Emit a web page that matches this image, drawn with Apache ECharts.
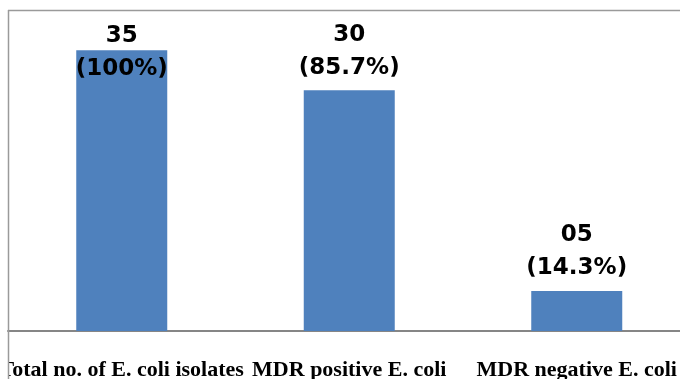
<!DOCTYPE html>
<html>
<head>
<meta charset="utf-8">
<script src="https://cdn.jsdelivr.net/npm/echarts@6/dist/echarts.min.js"></script>
<style>html,body{margin:0;padding:0;background:#fff}#c{width:680px;height:379px}</style>
</head>
<body>
<div id="c"></div>
<script>
var categories = ['Total no. of E. coli isolates', 'MDR positive E. coli', 'MDR negative E. coli'];
var counts = [35, 30, 5];
var countLabels = ['35', '30', '05'];
var percents = ['100%', '85.7%', '14.3%'];

var chart = echarts.init(document.getElementById('c'), null, {renderer: 'canvas'});
var data = counts.map(function (v, i) {
  var item = {value: v};
  if (i === 0) { item.label = {offset: [0, 41]}; }
  return item;
});
chart.setOption({
  animation: false,
  grid: {left: 8, top: 10, width: 682.5, height: 321, containLabel: false, outerBoundsMode: 'none', show: false},
  xAxis: {
    type: 'category',
    data: categories,
    axisLine: {show: true, lineStyle: {color: '#868686', width: 2}},
    axisTick: {show: false},
    axisLabel: {
      interval: 0, margin: 28, hideOverlap: false,
      fontFamily: 'Liberation Serif', fontWeight: 'bold', fontSize: 22, color: '#000'
    }
  },
  yAxis: {
    type: 'value', min: 0, max: 40, interval: 10,
    show: false, splitLine: {show: false}
  },
  series: [{
    type: 'bar',
    data: data,
    barWidth: '40%',
    itemStyle: {color: '#4F81BD'},
    label: {
      show: true, position: 'top', distance: 6,
      formatter: function (p) { return countLabels[p.dataIndex] + '\n(' + percents[p.dataIndex] + ')'; },
      fontFamily: 'DejaVu Sans', fontWeight: 'bold', fontSize: 23, lineHeight: 33, color: '#000'
    }
  }],
  graphic: [
    {type: 'rect', z: 100, shape: {x: 0, y: 332, width: 8, height: 47}, style: {fill: '#fff'}},
    {type: 'rect', z: 100, shape: {x: 675, y: 12, width: 5, height: 318}, style: {fill: '#fff'}},
    {type: 'line', z: 101, shape: {x1: 8.5, y1: 10, x2: 8.5, y2: 379}, style: {stroke: '#9a9a9a', lineWidth: 1.5}},
    {type: 'line', z: 101, shape: {x1: 8, y1: 10.5, x2: 680, y2: 10.5}, style: {stroke: '#9a9a9a', lineWidth: 1.5}}
  ]
});
</script>
</body>
</html>
